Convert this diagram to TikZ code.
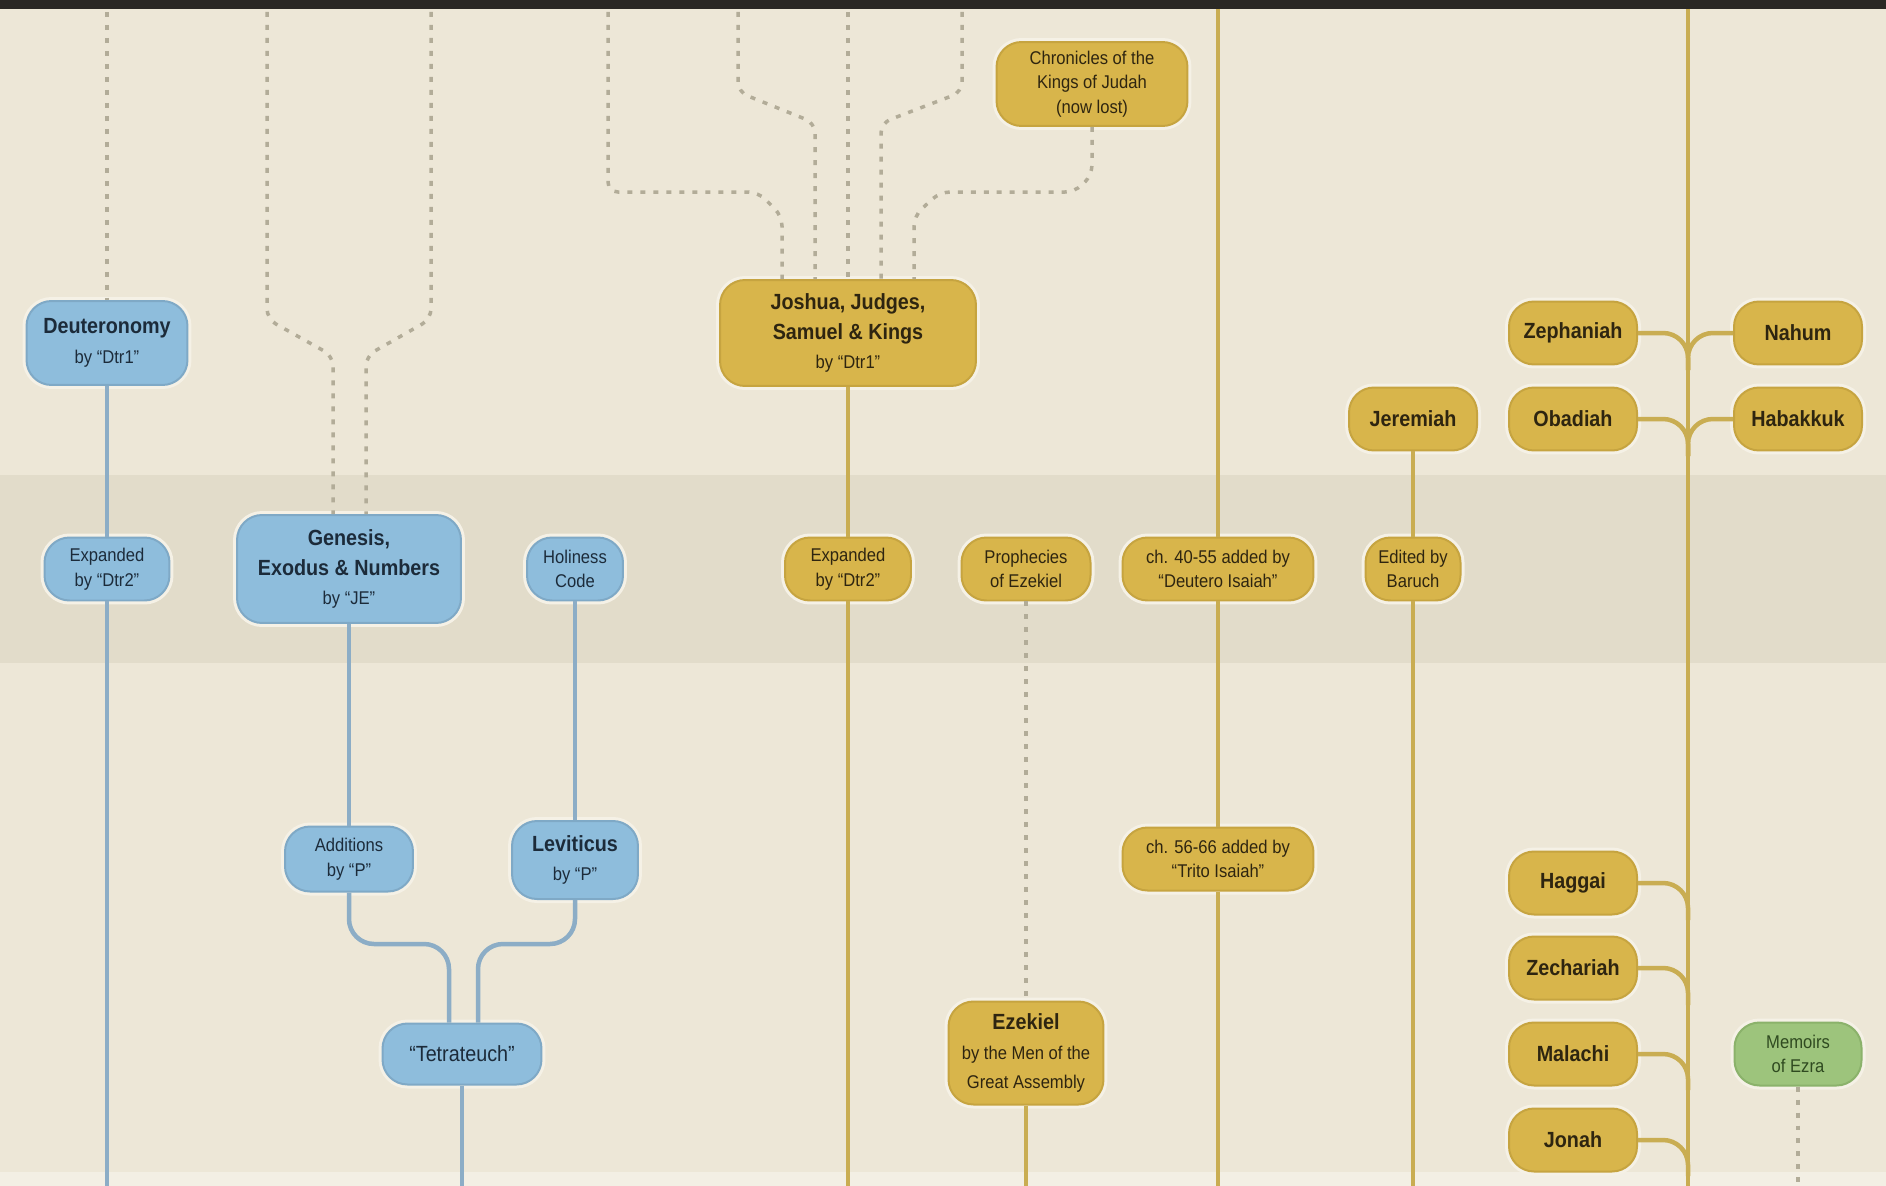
\documentclass[tikz,border=0pt]{standalone}
\usepackage{fontspec}
\setmainfont{Liberation Sans}[FakeStretch=0.9]
\usetikzlibrary{calc}
\definecolor{paper}{HTML}{EDE7D7}
\definecolor{bandc}{HTML}{E2DCCA}
\definecolor{stripc}{HTML}{F3EFE4}
\definecolor{barc}{HTML}{2A2824}
\definecolor{haloc}{HTML}{F5F1E6}
\definecolor{bluefill}{HTML}{8EBDDC}
\definecolor{blueedge}{HTML}{7FA9C6}
\definecolor{bluetext}{HTML}{1C2B3A}
\definecolor{bluewire}{HTML}{8CADC6}
\definecolor{goldfill}{HTML}{D8B54B}
\definecolor{goldedge}{HTML}{C6A440}
\definecolor{goldtext}{HTML}{2E2510}
\definecolor{goldwire}{HTML}{C9AD52}
\definecolor{greenfill}{HTML}{9DC47C}
\definecolor{greenedge}{HTML}{8BB26B}
\definecolor{greentext}{HTML}{2F4A20}
\definecolor{dotgrey}{HTML}{B2AC98}
\newcommand\smf{\fontsize{10.5}{14}\selectfont}
\newcommand\bgf{\fontsize{12.5}{17}\selectfont}
\newcommand\XA{107}
\newcommand\XB{349}
\newcommand\XC{462}
\newcommand\XD{575}
\newcommand\XE{848}
\newcommand\XF{1026}
\newcommand\XG{1092}
\newcommand\XH{1218}
\newcommand\XI{1413}
\newcommand\XJ{1573}
\newcommand\XK{1688}
\newcommand\XL{1798}
\newcommand\Y{569}

\begin{document}
\begin{tikzpicture}
  [x=0.02cm, y=-0.02cm, line width=0.09cm,
   box/.style = {
     rounded corners=0.5cm, line width=0.04cm, align=center,
     inner sep=0cm, minimum height=1.26cm, font=\bgf,
     preaction={draw=haloc, line width=0.16cm}
   },
   bluebox/.style = {box, draw=blueedge, fill=bluefill, text=bluetext},
   goldbox/.style = {box, draw=goldedge, fill=goldfill, text=goldtext},
   greenbox/.style = {box, draw=greenedge, fill=greenfill, text=greentext},
   blueline/.style = {draw=bluewire, rounded corners=0.5cm},
   goldline/.style = {draw=goldwire, rounded corners=0.5cm},
   dotline/.style = {
     draw=dotgrey, line width=0.07cm, dash pattern=on 0.1cm off 0.16cm,
     rounded corners=0.2cm
   }]

  % Background and the shaded band.
  \fill[paper] (0,0) rectangle (1886,1186);
  \fill[bandc] (0,475) rectangle (1886,663);
  \fill[stripc] (0,1172) rectangle (1886,1186);
  \fill[barc] (0,0) rectangle (1886,9);
  \useasboundingbox (0,0) rectangle (1886,1186);

  % Pentateuch sources.
  \node[bluebox, minimum width=3.22cm, minimum height=1.68cm] at (\XA, 343) (deu)
    {\textbf{Deuteronomy}\\{\smf by “Dtr1”}};
  \node[bluebox, font=\smf, minimum width=2.5cm] at (\XA, \Y) (exd) {Expanded\\by “Dtr2”};
  \node[bluebox, minimum width=4.48cm, minimum height=2.16cm] at (\XB, \Y) (gen)
    {\textbf{Genesis,}\\\textbf{Exodus \& Numbers}\\{\smf by “JE”}};
  \node[bluebox, font=\smf, minimum width=1.92cm] at (\XD, \Y) (hol) {Holiness\\Code};
  \node[bluebox, font=\smf, minimum width=2.56cm, minimum height=1.3cm] at (\XB, 859) (add)
    {Additions\\by “P”};
  \node[bluebox, minimum width=2.52cm, minimum height=1.56cm] at (\XD, 860) (lev)
    {\textbf{Leviticus}\\{\smf by “P”}};
  \node[bluebox, minimum width=3.18cm, minimum height=1.22cm] at (\XC, 1054) (tet) {“Tetrateuch”};

  % Histories.
  \node[goldbox, font=\smf, minimum width=3.82cm, minimum height=1.68cm] at (\XG, 84) (chr)
    {Chronicles of the\\Kings of Judah\\(now lost)};
  \node[goldbox, minimum width=5.12cm, minimum height=2.12cm] at (\XE, 333) (jos)
    {\textbf{Joshua, Judges,}\\\textbf{Samuel \& Kings}\\{\smf by “Dtr1”}};
  \node[goldbox, font=\smf, minimum width=2.52cm] at (\XE, \Y) (exj) {Expanded\\by “Dtr2”};

  % Prophets.
  \node[goldbox, font=\smf, minimum width=2.58cm] at (\XF, \Y) (pro) {Prophecies\\of Ezekiel};
  \node[goldbox, font=\smf, minimum width=3.82cm] at (\XH, \Y) (isaA)
    {ch. 40-55 added by\\“Deutero Isaiah”};
  \node[goldbox, font=\smf, minimum width=3.82cm] at (\XH, 859) (isaB)
    {ch. 56-66 added by\\“Trito Isaiah”};
  \node[goldbox, minimum width=3.1cm, minimum height=2.06cm] at (\XF, 1053) (ezk)
    {\textbf{Ezekiel}\\{\smf by the Men of the}\\{\smf Great Assembly}};
  \node[goldbox, minimum width=2.56cm] at (\XI, 419) (jer) {\textbf{Jeremiah}};
  \node[goldbox, font=\smf, minimum width=1.9cm] at (\XI, \Y) (bar) {Edited by\\Baruch};

  % The Twelve.
  \node[goldbox, minimum width=2.56cm] at (\XJ, 333) (zep) {\textbf{Zephaniah}};
  \node[goldbox, minimum width=2.56cm] at (\XL, 333) (nah) {\textbf{Nahum}};
  \node[goldbox, minimum width=2.56cm] at (\XJ, 419) (oba) {\textbf{Obadiah}};
  \node[goldbox, minimum width=2.56cm] at (\XL, 419) (hab) {\textbf{Habakkuk}};
  \node[goldbox, minimum width=2.56cm] at (\XJ, 883) (hag) {\textbf{Haggai}};
  \node[goldbox, minimum width=2.56cm] at (\XJ, 968) (zec) {\textbf{Zechariah}};
  \node[goldbox, minimum width=2.56cm] at (\XJ, 1054) (mal) {\textbf{Malachi}};
  \node[goldbox, minimum width=2.56cm] at (\XJ, 1140) (jon) {\textbf{Jonah}};

  \node[greenbox, font=\smf, minimum width=2.54cm] at (\XL, 1054) (mem) {Memoirs\\of Ezra};

  % Free ends at the top and bottom edges.
  \coordinate (deuTop) at (\XA, 12);
  \coordinate (genTopL) at (267, 12);
  \coordinate (genTopR) at (431, 12);
  \coordinate (josTopA) at (608, 12);
  \coordinate (josTopB) at (738, 12);
  \coordinate (josTopC) at (\XE, 12);
  \coordinate (josTopD) at (962, 12);
  \coordinate (isaTop) at (\XH, 9);
  \coordinate (twTop) at (\XK, 9);
  \coordinate (deuBot) at (\XA, 1186);
  \coordinate (tetBot) at (\XC, 1186);
  \coordinate (josBot) at (\XE, 1186);
  \coordinate (ezkBot) at (\XF, 1186);
  \coordinate (isaBot) at (\XH, 1186);
  \coordinate (jerBot) at (\XI, 1186);
  \coordinate (twBot) at (\XK, 1186);
  \coordinate (memBot) at (\XL, 1186);

  % Dotted (lost) sources.
  \draw[dotline] (deuTop) -- (deu);
  \draw[dotline] (genTopL) -- (267,319) -- (333,356) -- ($(gen.north)+(-16,0)$);
  \draw[dotline] (genTopR) -- (431,319) -- (366,356) -- ($(gen.north)+(17,0)$);
  \draw[dotline] (josTopA) -- (608,192) -- (758,192) -- (782,216) -- ($(jos.north)+(-66,0)$);
  \draw[dotline] (josTopB) -- (738,92) -- (815,123) -- ($(jos.north)+(-33,0)$);
  \draw[dotline] (josTopC) -- (jos);
  \draw[dotline] (josTopD) -- (962,92) -- (881,123) -- ($(jos.north)+(33,0)$);
  \draw[dotline] (chr) -- (\XG,175) -- (1075,192) -- (940,192) -- (914,216) -- ($(jos.north)+(66,0)$);
  \draw[dotline] (pro) -- (ezk);
  \draw[dotline] (mem) -- (memBot);

  % Blue wires.
  \draw[blueline] (deu) -- (exd);
  \draw[blueline] (exd) -- (deuBot);
  \draw[blueline] (gen) -- (add);
  \draw[blueline] (hol) -- (lev);
  \draw[blueline] (add) -- (\XB,944) -- (449,944) -- ($(tet.north)+(-13,0)$);
  \draw[blueline] (lev) -- (\XD,944) -- (478,944) -- ($(tet.north)+(16,0)$);
  \draw[blueline] (tet) -- (tetBot);

  % Gold wires.
  \draw[goldline] (jos) -- (exj);
  \draw[goldline] (exj) -- (josBot);
  \draw[goldline] (ezk) -- (ezkBot);
  \draw[goldline] (isaTop) -- (isaA);
  \draw[goldline] (isaA) -- (isaB);
  \draw[goldline] (isaB) -- (isaBot);
  \draw[goldline] (jer) -- (bar);
  \draw[goldline] (bar) -- (jerBot);
  \draw[goldline] (twTop) -- (twBot);

  % Merge into the Twelve.
  \draw[goldline] (zep) -| (\XK,370);
  \draw[goldline] (nah) -| (\XK,370);
  \draw[goldline] (oba) -| (\XK,456);
  \draw[goldline] (hab) -| (\XK,456);
  \draw[goldline] (hag) -| (\XK,920);
  \draw[goldline] (zec) -| (\XK,1005);
  \draw[goldline] (mal) -| (\XK,1090);
  \draw[goldline] (jon) -| (\XK,1176);

\end{tikzpicture}
\end{document}
